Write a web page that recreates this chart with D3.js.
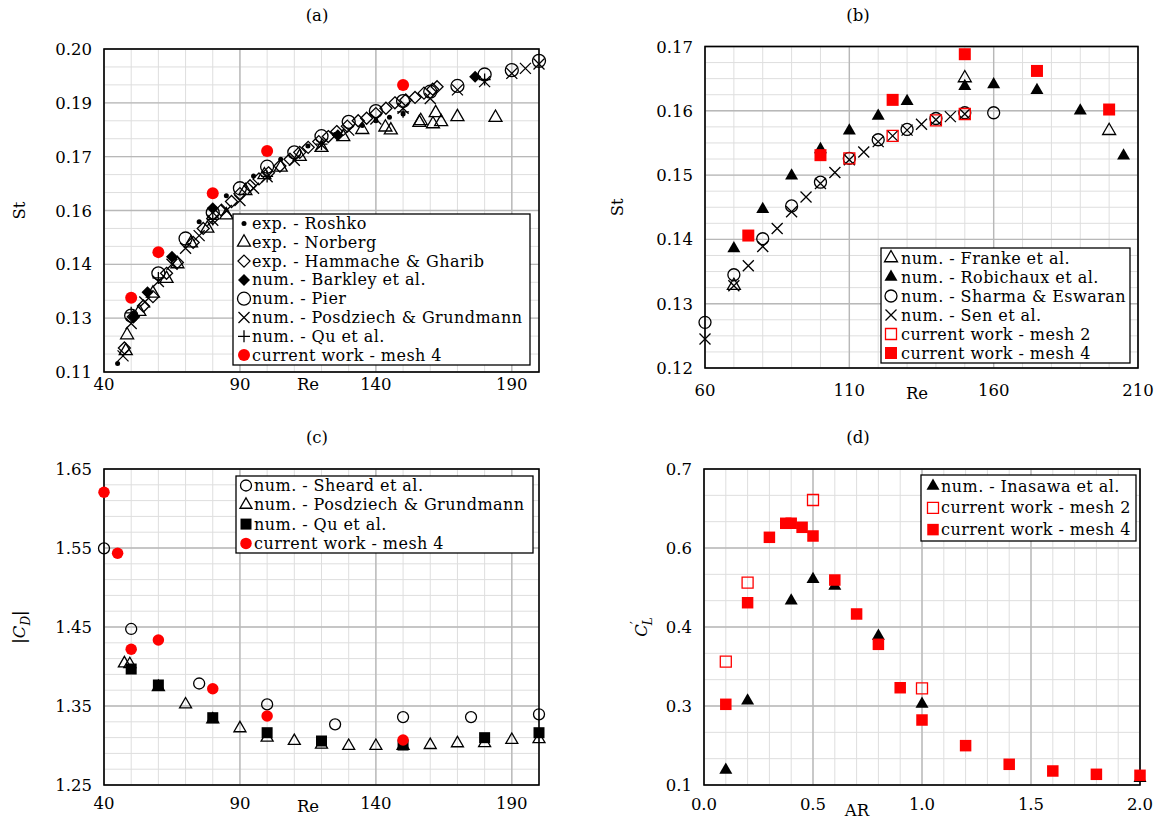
<!DOCTYPE html>
<html><head><meta charset="utf-8">
<script src="https://cdn.jsdelivr.net/npm/d3@7"></script>
<style>
body{margin:0;background:#fff}
svg{display:block}
</style>
</head><body>
<svg id="chart" width="1164" height="827" font-family="'DejaVu Serif', 'Liberation Serif', serif"></svg>
<script>
// ---------------- Panel (a): St vs Re ----------------
const ticksAx = [40, 90, 140, 190];
const ticksAy = [0.11, 0.125, 0.14, 0.155, 0.17, 0.185, 0.20];
const labelsAy = ["0.11", "0.13", "0.14", "0.16", "0.17", "0.19", "0.20"];
const reRoshko = [45, 75, 85, 95, 105, 115, 125, 135, 140, 145, 150];
const stRoshko = [0.1124, 0.1519, 0.1591, 0.1646, 0.1693, 0.1730, 0.1762, 0.1787, 0.1800, 0.1810, 0.1819];
const reNorberg = [48, 48.5, 53, 58, 63, 67, 72, 78, 85, 92, 99, 105, 112, 120, 128, 135, 143.5, 145.5, 156, 156.5, 161, 162, 164, 170, 184];
const stNorberg = [0.1159, 0.1203, 0.1268, 0.1319, 0.1360, 0.1401, 0.1459, 0.1500, 0.1537, 0.1605, 0.1649, 0.1670, 0.1700, 0.1725, 0.1755, 0.1775, 0.1782, 0.1774, 0.1795, 0.1800, 0.1791, 0.1822, 0.1797, 0.1811, 0.1809];
const reHammache = [47.5, 50.8, 54.5, 58, 63, 67, 72.8, 76.5, 80, 83.2, 86.9, 90, 93.7, 97, 100.5, 104.7, 108.4, 112, 115.1, 119, 122.5, 125.6, 129.5, 133.5, 136.6, 140, 143.7, 147, 151, 154.4, 157.7, 160.9, 162.5];
const stHammache = [0.1167, 0.1254, 0.1284, 0.1310, 0.1375, 0.1405, 0.1461, 0.1500, 0.1528, 0.1551, 0.1575, 0.1597, 0.1619, 0.1638, 0.1655, 0.1674, 0.1693, 0.1712, 0.1726, 0.1742, 0.1756, 0.1770, 0.1785, 0.1800, 0.1807, 0.1820, 0.1835, 0.1850, 0.1858, 0.1865, 0.1877, 0.1888, 0.1895];
const reBarkley = [51, 56, 65, 80, 126, 176.5];
const stBarkley = [0.1254, 0.1322, 0.1421, 0.1556, 0.1760, 0.1923];
const rePier = [50, 60, 70, 80, 90, 100, 110, 120, 130, 140, 150, 160, 170, 180, 190, 200];
const stPier = [0.1257, 0.1375, 0.1472, 0.1544, 0.1612, 0.1672, 0.1712, 0.1757, 0.1797, 0.1827, 0.1855, 0.1881, 0.1897, 0.1929, 0.1941, 0.1967];
const rePosdziechA = [47, 50, 55, 60, 65, 70, 75, 80, 85, 90, 95, 100, 110, 120, 130, 140, 150, 160, 170, 180, 190, 195, 200];
const stPosdziechA = [0.1145, 0.1235, 0.1295, 0.1352, 0.1400, 0.1445, 0.1480, 0.1523, 0.1550, 0.1578, 0.1612, 0.1644, 0.1690, 0.1733, 0.1774, 0.1805, 0.1835, 0.1862, 0.1886, 0.1909, 0.1932, 0.1946, 0.1958];
const reQuA = [50, 60, 80, 100, 120, 150, 180];
const stQuA = [0.1265, 0.1362, 0.1525, 0.1645, 0.1735, 0.1825, 0.1915];
const reCurrentA = [50, 60, 80, 100, 150];
const stCurrentA = [0.1307, 0.1434, 0.1598, 0.1716, 0.1900];

// ---------------- Panel (b): St vs Re ----------------
const ticksBx = [60, 110, 160, 210];
const ticksBy = [0.12, 0.13, 0.14, 0.15, 0.16, 0.17];
const labelsBy = ["0.12", "0.13", "0.14", "0.15", "0.16", "0.17"];
const reFranke = [70, 150, 200];
const stFranke = [0.1328, 0.1651, 0.1569];
const reRobichaux = [70, 80, 90, 100, 110, 120, 130, 150, 160, 175, 190, 205];
const stRobichaux = [0.1386, 0.1447, 0.1499, 0.1540, 0.1569, 0.1592, 0.1615, 0.1638, 0.1641, 0.1632, 0.1600, 0.1530];
const reSharma = [60, 70, 80, 90, 100, 110, 120, 130, 140, 150, 160];
const stSharma = [0.1271, 0.1345, 0.1401, 0.1452, 0.1489, 0.1526, 0.1555, 0.1571, 0.1588, 0.1597, 0.1597];
const reSen = [60, 70, 75, 80, 85, 90, 95, 100, 105, 110, 115, 120, 125, 130, 135, 140, 145, 150];
const stSen = [0.1245, 0.1328, 0.1359, 0.1389, 0.1417, 0.1443, 0.1466, 0.1487, 0.1504, 0.1524, 0.1536, 0.1552, 0.1561, 0.1570, 0.1579, 0.1586, 0.1591, 0.1595];
const reMesh2B = [110, 125, 140, 150];
const stMesh2B = [0.1526, 0.1561, 0.1585, 0.1595];
const reMesh4B = [75, 100, 125, 150, 175, 200];
const stMesh4B = [0.1406, 0.1531, 0.1617, 0.1688, 0.1662, 0.1602];

// ---------------- Panel (c): |CD| vs Re ----------------
const ticksCx = [40, 90, 140, 190];
const ticksCy = [1.25, 1.35, 1.45, 1.55, 1.65];
const labelsCy = ["1.25", "1.35", "1.45", "1.55", "1.65"];
const reSheard = [40, 50, 75, 100, 125, 150, 175, 200];
const cdSheard = [1.5496, 1.4475, 1.3785, 1.3520, 1.3268, 1.3360, 1.3360, 1.3395];
const rePosdziechC = [47.5, 49.5, 60, 70, 80, 90, 100, 110, 120, 130, 140, 150, 160, 170, 180, 190, 200];
const cdPosdziechC = [1.404, 1.403, 1.374, 1.352, 1.333, 1.3218, 1.310, 1.3057, 1.301, 1.2994, 1.2994, 1.2994, 1.3006, 1.3028, 1.303, 1.307, 1.308];
const reQuC = [50, 60, 80, 100, 120, 150, 180, 200];
const cdQuC = [1.3968, 1.3766, 1.3352, 1.3162, 1.3057, 1.3006, 1.3099, 1.3162];
const reCurrentC = [40, 45, 50, 60, 80, 100, 150];
const cdCurrentC = [1.6205, 1.5433, 1.4218, 1.4335, 1.3719, 1.3373, 1.3070];

// ---------------- Panel (d): C'L vs AR ----------------
const ticksDx = [0, 0.5, 1.0, 1.5, 2.0];
const labelsDx = ["0.0", "0.5", "1.0", "1.5", "2.0"];
const ticksDy = [0.1, 0.25, 0.4, 0.55, 0.7];
const labelsDy = ["0.1", "0.3", "0.4", "0.6", "0.7"];
const arInasawa = [0.1, 0.2, 0.4, 0.5, 0.6, 0.8, 1.0, 2.0];
const clInasawa = [0.1285, 0.2600, 0.4500, 0.4905, 0.4778, 0.3830, 0.2538, 0.1130];
const arMesh2D = [0.1, 0.2, 0.5, 1.0];
const clMesh2D = [0.3341, 0.4841, 0.6411, 0.2835];
const arMesh4D = [0.1, 0.2, 0.3, 0.375, 0.4, 0.45, 0.5, 0.6, 0.7, 0.8, 0.9, 1.0, 1.2, 1.4, 1.6, 1.8, 2.0];
const clMesh4D = [0.2532, 0.4461, 0.5703, 0.5969, 0.5970, 0.5893, 0.5728, 0.4892, 0.4247, 0.3671, 0.2847, 0.2234, 0.1747, 0.1393, 0.1266, 0.1203, 0.1184];

// ---------------- drawing ----------------
const svg = d3.select("#chart");
const FS = 16;

function markerPath(type, s) {
  switch (type) {
    case "tri": { const h = s * Math.sqrt(3) / 2; return `M0,${-2*h/3}L${s/2},${h/3}L${-s/2},${h/3}Z`; }
    case "sq": return `M${-s/2},${-s/2}h${s}v${s}h${-s}Z`;
    case "dia": return `M0,${-s/2}L${s/2},0L0,${s/2}L${-s/2},0Z`;
    case "x": return `M${-s/2},${-s/2}L${s/2},${s/2}M${-s/2},${s/2}L${s/2},${-s/2}`;
    case "plus": return `M${-s/2},0H${s/2}M0,${-s/2}V${s/2}`;
    default: { const r = s / 2; return `M${r},0A${r},${r},0,1,1,${-r},0A${r},${r},0,1,1,${r},0Z`; }
  }
}
function styleMarker(sel, st) {
  sel.attr("d", markerPath(st.shape, st.size))
    .attr("fill", st.fill || "none")
    .attr("stroke", st.stroke || "none")
    .attr("stroke-width", st.sw || 1.3);
}

function drawPanel(p) {
  const g = svg.append("g");
  const x = d3.scaleLinear().domain(p.xDom).range([p.left, p.right]);
  const y = d3.scaleLinear().domain(p.yDom).range([p.bottom, p.top]);
  const gx = g.append("g");
  gx.selectAll("line.vx").data(p.xMinor).join("line").attr("class", "vx")
    .attr("x1", d => x(d)).attr("x2", d => x(d)).attr("y1", p.top).attr("y2", p.bottom)
    .attr("stroke", "#dedede").attr("stroke-width", 1);
  gx.selectAll("line.hy").data(p.yMinor).join("line").attr("class", "hy")
    .attr("y1", d => y(d)).attr("y2", d => y(d)).attr("x1", p.left).attr("x2", p.right)
    .attr("stroke", "#dedede").attr("stroke-width", 1);
  g.append("g").selectAll("line").data(p.xTicks).join("line")
    .attr("x1", d => x(d)).attr("x2", d => x(d)).attr("y1", p.top).attr("y2", p.bottom)
    .attr("stroke", "#b8b8b8").attr("stroke-width", 1.4);
  g.append("g").selectAll("line").data(p.yTicks).join("line")
    .attr("y1", d => y(d)).attr("y2", d => y(d)).attr("x1", p.left).attr("x2", p.right)
    .attr("stroke", "#b8b8b8").attr("stroke-width", 1.4);
  g.append("rect").attr("x", p.left).attr("y", p.top)
    .attr("width", p.right - p.left).attr("height", p.bottom - p.top)
    .attr("fill", "none").attr("stroke", "#000").attr("stroke-width", 1.6);
  g.append("g").selectAll("text").data(p.xTicks).join("text")
    .attr("x", d => x(d)).attr("y", p.bottom + p.xTickDy).attr("text-anchor", "middle")
    .attr("font-size", FS + 0.5).text((d, i) => p.xLabels ? p.xLabels[i] : d);
  g.append("g").selectAll("text").data(p.yTicks).join("text")
    .attr("x", p.left - 12).attr("y", d => y(d) + 6).attr("text-anchor", "end")
    .attr("font-size", FS + 0.5).text((d, i) => p.yLabels[i]);
  g.append("text").attr("x", p.titleX).attr("y", p.titleY).attr("text-anchor", "middle")
    .attr("font-size", FS + 0.5).text(p.title);
  g.append("text").attr("x", p.xLabX).attr("y", p.bottom + p.xLabDy).attr("text-anchor", "middle")
    .attr("font-size", FS + 0.5).text(p.xLab);
  const yl = g.append("text").attr("transform", `translate(${p.yLabX},${(p.top + p.bottom) / 2}) rotate(-90)`)
    .attr("text-anchor", "middle").attr("font-size", FS + 0.5);
  p.yLab(yl);
  p.series.forEach(s => {
    const pts = s.xs.map((v, i) => [v, s.ys[i]]);
    g.append("g").selectAll("path").data(pts).join("path")
      .call(styleMarker, s.style)
      .attr("transform", d => `translate(${x(d[0])},${y(d[1])})`);
  });
  const L = p.legend;
  const lg = g.append("g");
  lg.append("rect").attr("x", L.x0).attr("y", L.y0).attr("width", L.x1 - L.x0).attr("height", L.y1 - L.y0)
    .attr("fill", "#fff").attr("stroke", "#000").attr("stroke-width", 1.3);
  p.series.filter(s => s.label).forEach((s, i) => {
    const cy = L.firstY + i * L.dy;
    lg.append("path").call(styleMarker, s.style).attr("transform", `translate(${L.mx},${cy})`);
    lg.append("text").attr("x", L.tx).attr("y", cy + 5.5).attr("font-size", FS)
      .attr("letter-spacing", 0.45).text(s.label);
  });
}

const openBlack = (shape, size) => ({shape, size, fill: "none", stroke: "#000", sw: 1.3});
const fillBlack = (shape, size) => ({shape, size, fill: "#000"});
const red = "#ff0000";
function stepRange(a, b, n) { return d3.range(n + 1).map(i => a + (b - a) * i / n); }

drawPanel({
  left: 104, right: 539, top: 49, bottom: 372,
  xDom: [40, 200], yDom: [0.11, 0.20],
  xTicks: ticksAx, yTicks: ticksAy, yLabels: labelsAy,
  xMinor: stepRange(40, 200, 16), yMinor: stepRange(0.11, 0.20, 18),
  title: "(a)", titleX: 317, titleY: 21, xTickDy: 18,
  xLab: "Re", xLabX: 308, xLabDy: 18, yLabX: 25,
  yLab: t => t.text("St"),
  series: [
    {xs: reRoshko, ys: stRoshko, style: fillBlack("circle", 5), label: "exp. - Roshko"},
    {xs: reNorberg, ys: stNorberg, style: openBlack("tri", 13), label: "exp. - Norberg"},
    {xs: reHammache, ys: stHammache, style: openBlack("dia", 12), label: "exp. - Hammache & Gharib"},
    {xs: reBarkley, ys: stBarkley, style: fillBlack("dia", 12), label: "num. - Barkley et al."},
    {xs: rePier, ys: stPier, style: openBlack("circle", 13), label: "num. - Pier"},
    {xs: rePosdziechA, ys: stPosdziechA, style: openBlack("x", 11), label: "num. - Posdziech & Grundmann"},
    {xs: reQuA, ys: stQuA, style: openBlack("plus", 12), label: "num. - Qu et al."},
    {xs: reCurrentA, ys: stCurrentA, style: {shape: "circle", size: 12, fill: red}, label: "current work - mesh 4"}
  ],
  legend: {x0: 233, x1: 530, y0: 214, y1: 365, firstY: 223.5, dy: 18.8, mx: 244, tx: 252}
});

drawPanel({
  left: 705, right: 1138, top: 46.5, bottom: 368,
  xDom: [60, 210], yDom: [0.12, 0.17],
  xTicks: ticksBx, yTicks: ticksBy, yLabels: labelsBy,
  xMinor: stepRange(60, 210, 15), yMinor: stepRange(0.12, 0.17, 20),
  title: "(b)", titleX: 858, titleY: 21, xTickDy: 28,
  xLab: "Re", xLabX: 917, xLabDy: 31, yLabX: 623,
  yLab: t => t.text("St"),
  series: [
    {xs: reFranke, ys: stFranke, style: openBlack("tri", 13), label: "num. - Franke et al."},
    {xs: reRobichaux, ys: stRobichaux, style: fillBlack("tri", 13), label: "num. - Robichaux et al."},
    {xs: reSharma, ys: stSharma, style: openBlack("circle", 12), label: "num. - Sharma & Eswaran"},
    {xs: reSen, ys: stSen, style: openBlack("x", 11), label: "num. - Sen et al."},
    {xs: reMesh2B, ys: stMesh2B, style: {shape: "sq", size: 11, fill: "none", stroke: red, sw: 1.3}, label: "current work - mesh 2"},
    {xs: reMesh4B, ys: stMesh4B, style: {shape: "sq", size: 12, fill: red}, label: "current work - mesh 4"}
  ],
  legend: {x0: 881, x1: 1130, y0: 248, y1: 363, firstY: 258, dy: 19, mx: 891, tx: 901}
});

drawPanel({
  left: 104, right: 539, top: 469, bottom: 785,
  xDom: [40, 200], yDom: [1.25, 1.65],
  xTicks: ticksCx, yTicks: ticksCy, yLabels: labelsCy,
  xMinor: stepRange(40, 200, 16), yMinor: stepRange(1.25, 1.65, 20),
  title: "(c)", titleX: 317, titleY: 443, xTickDy: 24,
  xLab: "Re", xLabX: 308, xLabDy: 27, yLabX: 25,
  yLab: t => {
    t.append("tspan").text("|");
    t.append("tspan").attr("font-style", "italic").text("C");
    t.append("tspan").attr("font-style", "italic").attr("font-size", 12).attr("dy", 5).text("D");
    t.append("tspan").attr("dy", -5).text("|");
  },
  series: [
    {xs: reSheard, ys: cdSheard, style: openBlack("circle", 11), label: "num. - Sheard et al."},
    {xs: rePosdziechC, ys: cdPosdziechC, style: openBlack("tri", 12), label: "num. - Posdziech & Grundmann"},
    {xs: reQuC, ys: cdQuC, style: fillBlack("sq", 11), label: "num. - Qu et al."},
    {xs: reCurrentC, ys: cdCurrentC, style: {shape: "circle", size: 11.5, fill: red}, label: "current work - mesh 4"}
  ],
  legend: {x0: 236, x1: 533, y0: 476, y1: 553, firstY: 485.5, dy: 19.3, mx: 246, tx: 254}
});

drawPanel({
  left: 704, right: 1140, top: 469, bottom: 785,
  xDom: [0, 2], yDom: [0.1, 0.7],
  xTicks: ticksDx, xLabels: labelsDx, yTicks: ticksDy, yLabels: labelsDy,
  xMinor: stepRange(0, 2, 20), yMinor: stepRange(0.1, 0.7, 12),
  title: "(d)", titleX: 858, titleY: 443, xTickDy: 25,
  xLab: "AR", xLabX: 857, xLabDy: 31, yLabX: 647,
  yLab: t => {
    t.append("tspan").attr("font-style", "italic").text("C");
    t.append("tspan").attr("font-size", 12).attr("dy", -7).text("′");
    t.append("tspan").attr("font-style", "italic").attr("font-size", 12).attr("dx", -4).attr("dy", 12).text("L");
  },
  series: [
    {xs: arInasawa, ys: clInasawa, style: fillBlack("tri", 13), label: "num. - Inasawa et al."},
    {xs: arMesh2D, ys: clMesh2D, style: {shape: "sq", size: 11, fill: "none", stroke: red, sw: 1.3}, label: "current work - mesh 2"},
    {xs: arMesh4D, ys: clMesh4D, style: {shape: "sq", size: 11.5, fill: red}, label: "current work - mesh 4"}
  ],
  legend: {x0: 921, x1: 1136, y0: 475, y1: 541, firstY: 486, dy: 21.8, mx: 933, tx: 941}
});
</script>
</body></html>
